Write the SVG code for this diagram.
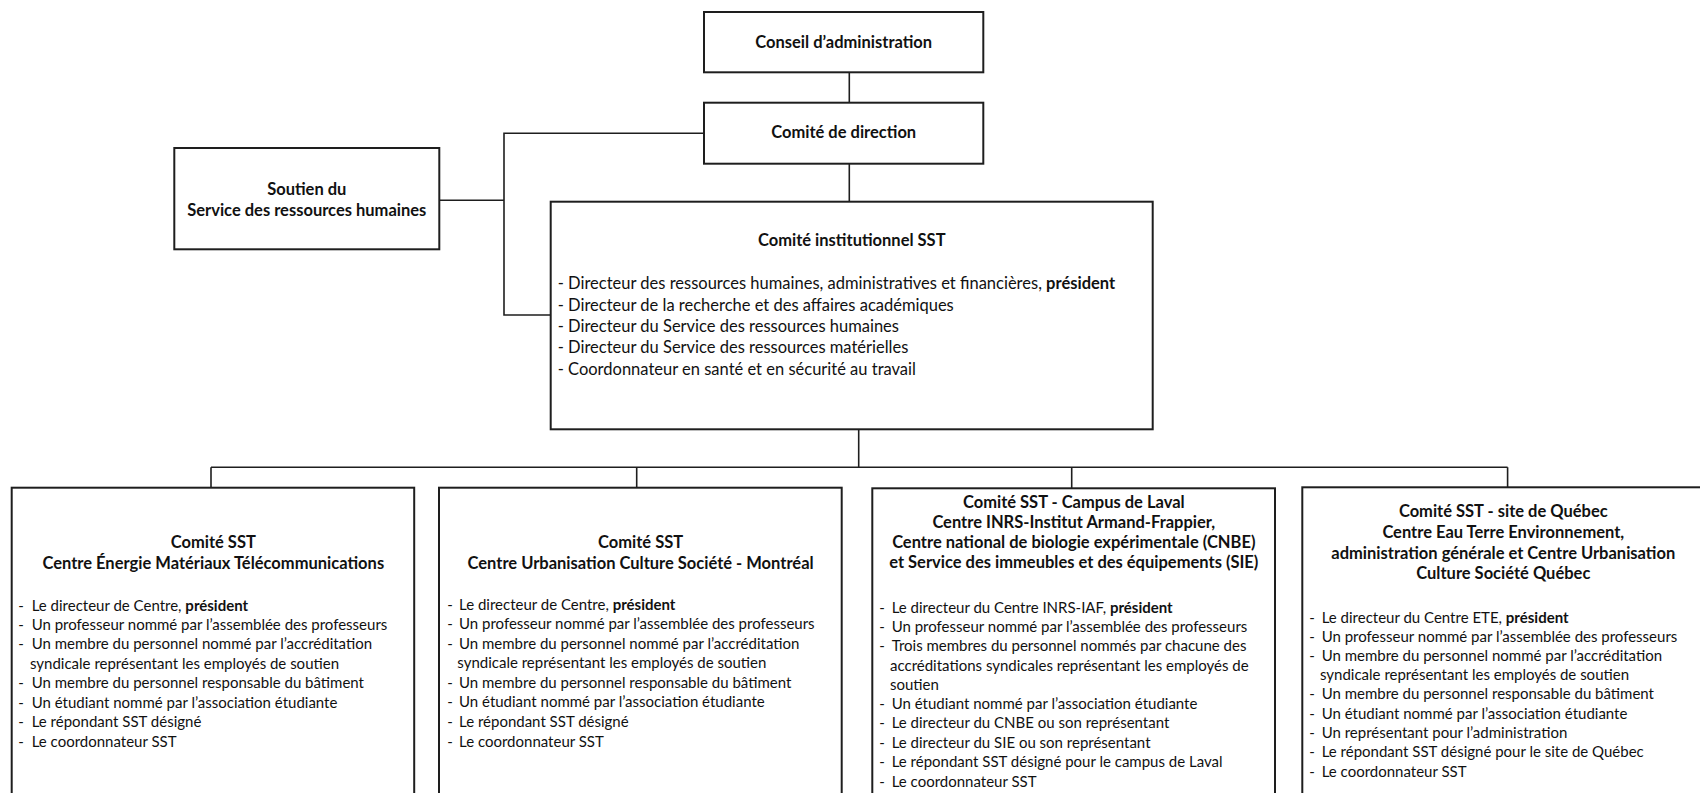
<svg xmlns="http://www.w3.org/2000/svg" width="1700" height="793" viewBox="0 0 1700 793">
<style>
.bg{fill:#fff}
.box{fill:#fff;stroke:#1e1e1e;stroke-width:2}
.conn{fill:none;stroke:#1e1e1e;stroke-width:1.6}
text{font-family:Lato,"Liberation Sans",sans-serif;fill:#111;font-size:15px}
.h{font-weight:bold;text-anchor:middle;font-size:16.5px}
.s{font-size:16.5px}
.bd{font-weight:bold}
</style>
<rect class="bg" x="0" y="0" width="1700" height="793"/>
<g id="connectors">
<path class="conn" d="M849.3,72.3V102.7"/>
<path class="conn" d="M849.3,163.7V201.7"/>
<path class="conn" d="M704,133.3H504V315H550.7"/>
<path class="conn" d="M439.3,200.3H504"/>
<path class="conn" d="M858.7,429.3V467.3"/>
<path class="conn" d="M211,467.3H1507.6"/>
<path class="conn" d="M211,467.3V487.5M636.7,467.3V487.5M1071.7,467.3V488M1507.6,467.3V487.5"/>
</g>
<g id="conseil">
<rect class="box" x="704" y="12" width="279.3" height="60.3"/>
<text class="h" x="843.7" y="47.7">Conseil d’administration</text>
</g>
<g id="direction">
<rect class="box" x="704" y="102.7" width="279.3" height="61"/>
<text class="h" x="843.7" y="138.3">Comité de direction</text>
</g>
<g id="soutien">
<rect class="box" x="174.3" y="148" width="265" height="101.3"/>
<text class="h" x="306.8" y="194.5">Soutien du</text>
<text class="h" x="306.8" y="215.7">Service des ressources humaines</text>
</g>
<g id="institutionnel">
<rect class="box" x="550.7" y="201.7" width="602" height="227.6"/>
<text class="h" x="851.8" y="246">Comité institutionnel SST</text>
<text class="s" x="557.7" y="289.3">- Directeur des ressources humaines, administratives et financières, <tspan class="bd">président</tspan></text>
<text class="s" x="557.7" y="310.6">- Directeur de la recherche et des affaires académiques</text>
<text class="s" x="557.7" y="331.8">- Directeur du Service des ressources humaines</text>
<text class="s" x="557.7" y="353.1">- Directeur du Service des ressources matérielles</text>
<text class="s" x="557.7" y="374.5">- Coordonnateur en santé et en sécurité au travail</text>
</g>
<g id="emt">
<rect class="box" x="11.7" y="487.7" width="402.5" height="320"/>
<text class="h" x="213.3" y="548.3">Comité SST</text>
<text class="h" x="213.3" y="569.3">Centre Énergie Matériaux Télécommunications</text>
<g>
<text x="18.3" y="610.5">-</text><text x="31.7" y="610.5">Le directeur de Centre, <tspan class="bd">président</tspan></text>
<text x="18.3" y="630">-</text><text x="31.7" y="630">Un professeur nommé par l’assemblée des professeurs</text>
<text x="18.3" y="649.3">-</text><text x="31.7" y="649.3">Un membre du personnel nommé par l’accréditation</text>
<text x="30" y="668.5">syndicale représentant les employés de soutien</text>
<text x="18.3" y="688">-</text><text x="31.7" y="688">Un membre du personnel responsable du bâtiment</text>
<text x="18.3" y="707.5">-</text><text x="31.7" y="707.5">Un étudiant nommé par l’association étudiante</text>
<text x="18.3" y="726.7">-</text><text x="31.7" y="726.7">Le répondant SST désigné</text>
<text x="18.3" y="746.5">-</text><text x="31.7" y="746.5">Le coordonnateur SST</text>
</g>
</g>
<g id="ucs">
<rect class="box" x="439" y="487.7" width="402.7" height="320"/>
<text class="h" x="640.6" y="548.3">Comité SST</text>
<text class="h" x="640.6" y="569.3">Centre Urbanisation Culture Société - Montréal</text>
<g>
<text x="447.3" y="610">-</text><text x="459" y="610">Le directeur de Centre, <tspan class="bd">président</tspan></text>
<text x="447.3" y="629.3">-</text><text x="459" y="629.3">Un professeur nommé par l’assemblée des professeurs</text>
<text x="447.3" y="649">-</text><text x="459" y="649">Un membre du personnel nommé par l’accréditation</text>
<text x="457.3" y="668.3">syndicale représentant les employés de soutien</text>
<text x="447.3" y="687.7">-</text><text x="459" y="687.7">Un membre du personnel responsable du bâtiment</text>
<text x="447.3" y="707.3">-</text><text x="459" y="707.3">Un étudiant nommé par l’association étudiante</text>
<text x="447.3" y="726.7">-</text><text x="459" y="726.7">Le répondant SST désigné</text>
<text x="447.3" y="746.7">-</text><text x="459" y="746.7">Le coordonnateur SST</text>
</g>
</g>
<g id="laval">
<rect class="box" x="872.3" y="488.3" width="402.7" height="320"/>
<text class="h" x="1073.8" y="507.7">Comité SST - Campus de Laval</text>
<text class="h" x="1073.8" y="528">Centre INRS-Institut Armand-Frappier,</text>
<text class="h" x="1073.8" y="547.7">Centre national de biologie expérimentale (CNBE)</text>
<text class="h" x="1073.8" y="567.7">et Service des immeubles et des équipements (SIE)</text>
<g>
<text x="879.3" y="612.7">-</text><text x="891.7" y="612.7">Le directeur du Centre INRS-IAF, <tspan class="bd">président</tspan></text>
<text x="879.3" y="631.7">-</text><text x="891.7" y="631.7">Un professeur nommé par l’assemblée des professeurs</text>
<text x="879.3" y="651">-</text><text x="891.7" y="651">Trois membres du personnel nommés par chacune des</text>
<text x="890" y="670.7">accréditations syndicales représentant les employés de</text>
<text x="890" y="690">soutien</text>
<text x="879.3" y="709.3">-</text><text x="891.7" y="709.3">Un étudiant nommé par l’association étudiante</text>
<text x="879.3" y="728.3">-</text><text x="891.7" y="728.3">Le directeur du CNBE ou son représentant</text>
<text x="879.3" y="747.7">-</text><text x="891.7" y="747.7">Le directeur du SIE ou son représentant</text>
<text x="879.3" y="767.3">-</text><text x="891.7" y="767.3">Le répondant SST désigné pour le campus de Laval</text>
<text x="879.3" y="786.7">-</text><text x="891.7" y="786.7">Le coordonnateur SST</text>
</g>
</g>
<g id="quebec">
<rect class="box" x="1302.3" y="487.3" width="402" height="320"/>
<text class="h" x="1503.3" y="517.3">Comité SST - site de Québec</text>
<text class="h" x="1503.3" y="537.7">Centre Eau Terre Environnement,</text>
<text class="h" x="1503.3" y="558.7">administration générale et Centre Urbanisation</text>
<text class="h" x="1503.3" y="579">Culture Société Québec</text>
<g>
<text x="1309.3" y="622.7">-</text><text x="1321.7" y="622.7">Le directeur du Centre ETE, <tspan class="bd">président</tspan></text>
<text x="1309.3" y="641.7">-</text><text x="1321.7" y="641.7">Un professeur nommé par l’assemblée des professeurs</text>
<text x="1309.3" y="660.7">-</text><text x="1321.7" y="660.7">Un membre du personnel nommé par l’accréditation</text>
<text x="1320" y="680">syndicale représentant les employés de soutien</text>
<text x="1309.3" y="699.3">-</text><text x="1321.7" y="699.3">Un membre du personnel responsable du bâtiment</text>
<text x="1309.3" y="718.7">-</text><text x="1321.7" y="718.7">Un étudiant nommé par l’association étudiante</text>
<text x="1309.3" y="738">-</text><text x="1321.7" y="738">Un représentant pour l’administration</text>
<text x="1309.3" y="757.3">-</text><text x="1321.7" y="757.3">Le répondant SST désigné pour le site de Québec</text>
<text x="1309.3" y="776.7">-</text><text x="1321.7" y="776.7">Le coordonnateur SST</text>
</g>
</g>
</svg>
